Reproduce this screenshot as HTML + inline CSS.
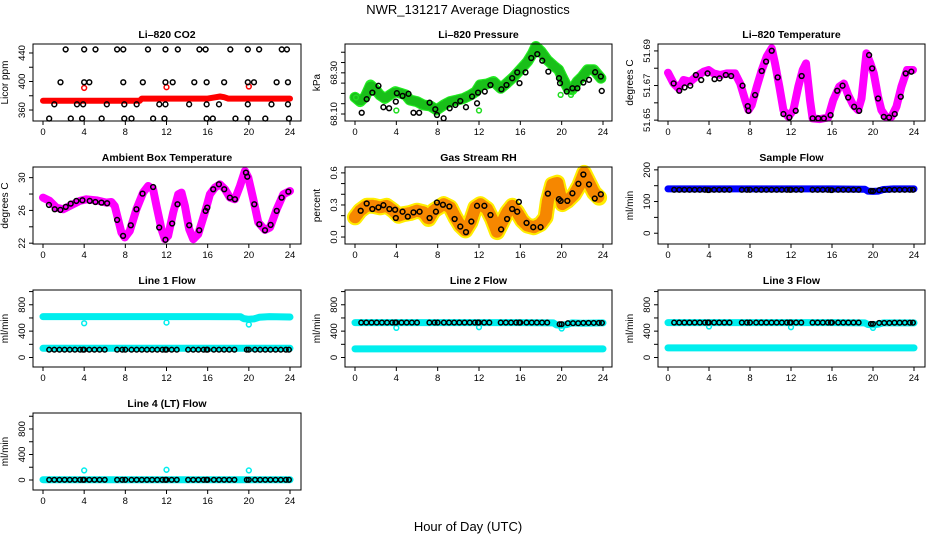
<!DOCTYPE html>
<html><head><meta charset="utf-8"><style>
html,body{margin:0;padding:0;background:#fff;}
svg{display:block;font-family:"Liberation Sans",sans-serif;}
</style></head><body>
<svg id="chart" width="936" height="540" viewBox="0 0 936 540" xmlns="http://www.w3.org/2000/svg">
<text x="468" y="14" text-anchor="middle" font-size="13">NWR_131217  Average Diagnostics</text>
<text x="468" y="531" text-anchor="middle" font-size="13">Hour of Day (UTC)</text>
</svg>
<script>
// ---------- data ----------
const xTicks = [0,4,8,12,16,20,24];
// CO2
const co2BandHours = [0,2,4,6,8,9.4,9.6,12,14,16,16.8,17.2,17.6,18,20,22,24];
const co2BandVals  = [373,373,373,373,373,373,376,376,376,376,378,379,378,376,376,376,376];
const co2RedHours = [4,12,20];
const co2RedVals  = [391,392,393];
const co2BlackHours = [2.2,4.0,5.1,7.2,7.8,10.2,11.9,13.1,15.2,15.8,18.2,19.9,21.0,23.2,23.7,
  1.7,4.0,4.5,7.8,9.7,11.9,12.6,14.7,15.9,17.6,19.9,20.5,22.7,23.8,
  1.1,3.3,3.9,6.2,7.9,9.1,11.3,11.9,14.2,15.9,17.1,19.9,22.2,23.8,
  0.6,2.7,3.8,5.7,7.9,8.6,10.7,11.8,15.9,16.5,18.7,19.9,21.6,23.9];
const co2BlackVals = [445,445,445,445,445,445,445,445,445,445,445,445,445,445,445,
  399,399,399,399,399,399,399,399,399,399,399,399,399,399,
  368,368,368,368,368,368,368,368,368,368,368,368,368,368,
  348,348,348,348,348,348,348,348,348,348,348,348,348,348];
// Pressure
const presHours = [0,0.5,1,1.5,2,2.4,2.9,3.4,3.9,4.4,4.9,5.3,6,6.6,7.3,7.9,8.6,9.2,9.9,10.5,11.2,11.7,12.1,12.8,13.4,14.1,14.7,15.4,16,16.7,17.2,17.5,18,18.6,19.3,19.7,20.1,20.6,21,21.5,22,22.5,23.1,23.8];
const presVals = [68.181,68.160,68.185,68.241,68.217,68.193,68.176,68.193,68.209,68.201,68.193,68.168,68.160,68.144,68.139,68.120,68.144,68.160,68.168,68.176,68.193,68.209,68.241,68.246,68.258,68.225,68.250,68.282,68.315,68.355,68.396,68.428,68.404,68.363,68.331,68.315,68.274,68.225,68.217,68.258,68.282,68.315,68.315,68.274];
const presBlackHours = [0.65,1.13,1.68,2.27,2.75,3.30,3.95,4.05,4.60,5.18,5.66,6.21,7.22,7.77,7.93,8.58,9.16,9.71,10.19,10.74,11.33,11.81,11.91,12.56,13.11,14.17,14.66,15.21,15.70,15.92,16.50,17.06,17.64,18.12,18.71,19.74,19.84,20.49,21.04,21.52,22.10,22.65,23.24,23.79,23.88];
const presBlackVals = [68.106,68.172,68.204,68.237,68.133,68.128,68.160,68.201,68.188,68.198,68.106,68.106,68.155,68.123,68.095,68.079,68.128,68.144,68.163,68.133,68.185,68.152,68.204,68.209,68.241,68.220,68.241,68.274,68.302,68.250,68.302,68.372,68.391,68.359,68.306,68.274,68.250,68.209,68.225,68.225,68.253,68.266,68.303,68.282,68.212];
const presGreenHours = [0.1,4.0,12.0,19.9,20.9];
const presGreenVals = [68.18,68.117,68.117,68.193,68.193];
// Li-820 temperature
const tempHours = [0,0.55,1.04,1.52,2.17,2.82,3.47,3.96,4.44,5.09,5.74,6.55,7.04,7.53,7.85,8.17,8.66,9.15,9.63,10.12,10.44,10.87,11.26,11.74,12.23,12.71,13.14,13.46,13.85,14.11,14.82,15.63,16.12,16.70,17.16,17.58,18.07,18.55,18.88,19.36,19.75,20.08,20.50,20.82,21.31,21.80,22.28,22.77,23.32,23.90];
const tempVals = [51.6774,51.6712,51.6683,51.6732,51.6722,51.6755,51.6780,51.6790,51.6770,51.6761,51.6770,51.6770,51.6712,51.6616,51.6558,51.6587,51.6693,51.6790,51.6867,51.6915,51.6828,51.6693,51.6558,51.6519,51.6558,51.6693,51.6790,51.6828,51.6616,51.6510,51.6506,51.6515,51.6616,51.6693,51.6712,51.6645,51.6587,51.6558,51.6625,51.6886,51.6828,51.6770,51.6635,51.6558,51.6515,51.6519,51.6577,51.6693,51.6790,51.6790];
const tempBlackHours = [0.55,1.10,1.62,2.17,2.72,3.24,3.86,4.54,5.03,5.64,6.16,7.27,7.78,7.85,8.50,9.15,9.57,10.12,10.70,11.26,11.84,12.46,13.04,14.11,14.66,15.21,15.86,16.51,17.03,17.58,18.16,18.65,19.62,19.92,20.50,21.05,21.57,22.12,22.71,23.19,23.74];
const tempBlackVals = [51.6712,51.6670,51.6689,51.6699,51.6761,51.6732,51.6770,51.6737,51.6741,51.6761,51.6755,51.6699,51.6581,51.6554,51.6645,51.6784,51.6838,51.6901,51.6747,51.6535,51.6515,51.6554,51.6755,51.6510,51.6510,51.6510,51.6529,51.6670,51.6699,51.6631,51.6577,51.6554,51.6876,51.6799,51.6625,51.6519,51.6515,51.6535,51.6635,51.6770,51.6780];
// Ambient box temperature
const ambHours = [0,0.65,1.30,1.95,2.59,3.57,4.22,5.19,6.16,6.65,6.97,7.30,7.62,7.95,8.43,9.08,9.73,10.22,10.70,11.03,11.51,11.84,12.16,12.65,13.14,13.46,13.79,14.21,14.60,15.08,15.73,16.22,16.70,17.19,17.68,18.16,18.65,19.14,19.62,19.95,20.43,20.92,21.57,22.06,22.71,23.35,24.00];
const ambVals = [27.56,27.16,26.34,26.14,26.55,27.16,27.36,27.24,26.95,27.03,26.55,24.92,23.30,22.69,23.50,26.14,28.17,28.98,28.58,26.55,23.71,22.49,22.89,25.74,27.97,28.17,26.55,23.71,22.49,23.10,25.74,27.97,28.78,29.19,28.58,27.56,27.36,28.98,30.81,30.00,27.36,24.52,23.62,23.91,26.14,27.97,28.37];
const ambBlackHours = [0.58,1.14,1.69,2.21,2.69,3.24,3.83,4.54,5.09,5.68,6.23,7.20,7.78,8.53,9.08,9.67,10.70,11.29,11.90,12.55,13.07,14.21,15.18,15.80,15.96,16.54,17.09,17.61,18.16,18.65,19.72,19.85,20.53,21.02,21.57,22.12,22.71,23.19,23.84];
const ambBlackVals = [26.67,26.14,26.06,26.43,26.83,27.16,27.24,27.16,27.03,26.95,26.87,24.84,22.89,24.19,26.14,28.05,28.86,23.91,22.41,24.40,26.75,24.19,23.58,25.94,26.34,28.58,29.19,28.58,27.56,27.36,30.61,30.12,26.75,24.31,23.58,24.23,25.94,27.56,28.29];
// Gas stream RH
const rhHours = [0,0.49,1.13,1.78,2.43,3.07,3.72,4.21,4.69,5.34,5.99,6.63,7.12,7.61,8.09,8.58,9.22,9.71,10.19,10.68,11.17,11.65,12.14,12.78,13.27,13.75,14.24,14.72,15.21,15.70,16.18,16.67,17.31,17.96,18.45,18.67,19.09,19.58,20.06,20.55,21.20,21.68,22.17,22.65,23.14,23.62];
const rhVals = [0.185,0.246,0.292,0.292,0.277,0.292,0.246,0.200,0.215,0.225,0.246,0.231,0.169,0.246,0.277,0.308,0.277,0.185,0.108,0.062,0.138,0.277,0.308,0.262,0.169,0.046,0.138,0.231,0.292,0.231,0.154,0.108,0.092,0.123,0.185,0.338,0.492,0.508,0.308,0.338,0.400,0.477,0.600,0.508,0.415,0.369];
const rhBlackHours = [0.55,1.13,1.68,2.27,2.75,3.33,3.88,3.95,4.60,5.11,5.66,6.25,7.22,7.83,7.93,8.51,9.13,9.64,10.19,10.74,11.26,11.81,12.52,13.11,14.14,14.72,15.21,15.86,15.70,16.60,17.25,17.96,18.67,19.74,19.90,20.55,21.04,21.62,22.10,22.65,23.20,23.79];
const rhBlackVals = [0.246,0.314,0.262,0.277,0.298,0.262,0.255,0.178,0.237,0.191,0.231,0.237,0.178,0.237,0.323,0.302,0.286,0.169,0.098,0.046,0.145,0.292,0.292,0.206,0.071,0.169,0.262,0.329,0.237,0.132,0.092,0.092,0.406,0.354,0.338,0.338,0.409,0.498,0.585,0.492,0.360,0.400];
// Flow panels
const flowHours = [0.6,1.1,1.6,2.1,2.6,3.1,3.6,3.9,4.0,4.5,5.0,5.5,6.0,7.2,7.7,8.0,8.6,9.1,9.6,10.1,10.6,11.1,11.6,11.9,12.0,12.5,13.0,14.1,14.6,15.1,15.6,15.9,16.0,16.6,17.1,17.6,18.1,18.6,19.8,20.0,20.6,21.1,21.6,22.1,22.6,23.1,23.6,23.9];
const bandHours = [0,4,8,12,16,19.2,19.5,20,20.5,21,22,24];
const sampleBand = [140,140,140,140,140,139,133,132,133,138,140,140];
const sampleVals = [137,137,137,137,137,137,137,136,136,137,137,137,137,137,137,137,137,137,137,137,137,137,137,137,137,137,137,137,137,137,137,136,136,137,137,137,137,137,133,133,136,137,137,137,137,137,137,137];
const line1UpperBand = [620,620,620,620,620,618,590,580,585,610,620,615];
const line1LowerBand = [140,140,140,140,140,140,140,140,140,140,140,140];
const line1Vals = [118,118,118,118,118,118,118,118,118,118,118,118,118,118,118,118,118,118,118,118,118,118,118,118,118,118,118,118,118,118,118,118,118,118,118,118,118,118,118,118,118,118,118,118,118,118,118,118];
const line1OutHours = [4,12,20];
const line1OutVals = [520,530,500];
const line2UpperBand = [530,530,530,530,530,525,495,490,500,525,520,525];
const line2LowerBand = [130,130,130,130,130,130,130,130,130,130,130,130];
const line2Vals = [530,530,530,530,530,530,530,530,530,530,530,530,530,530,530,530,530,530,530,530,530,530,530,530,530,530,530,530,530,530,530,530,530,530,530,530,530,530,505,505,520,520,520,525,525,525,525,525];
const line2OutHours = [4,12,20];
const line2OutVals = [450,460,440];
const line3UpperBand = [530,530,530,530,530,525,500,495,505,525,525,525];
const line3LowerBand = [145,145,145,145,145,145,145,145,145,145,145,145];
const line3Vals = [530,530,530,530,530,530,530,530,530,530,530,530,530,530,530,530,530,530,530,530,530,530,530,530,530,530,530,530,530,530,530,530,530,530,530,530,530,530,510,510,525,525,525,528,528,528,528,528];
const line3OutHours = [4,12,20];
const line3OutVals = [470,460,450];
const line4Band = [5,5,5,5,5,5,5,5,5,5,5,5];
const line4Vals = [3,3,3,3,3,3,3,3,3,3,3,3,3,3,3,3,3,3,3,3,3,3,3,3,3,3,3,3,3,3,3,3,3,3,3,3,3,3,3,3,3,3,3,3,3,3,3,3];
const line4OutHours = [4,12,20];
const line4OutVals = [150,160,150];

// ---------- layout ----------
const NS = "http://www.w3.org/2000/svg";
const svg = document.getElementById('chart');
const COLS = [{l:33,r:301,x0:43,x24:290},{l:345,r:612,x0:355,x24:603},{l:658,r:925,x0:668,x24:914}];
const ROWS = [{t:44,b:121},{t:167,b:244},{t:290,b:367},{t:413,b:490}];

function el(tag, attrs, parent){
  const e = document.createElementNS(NS, tag);
  for (const k in attrs) e.setAttribute(k, attrs[k]);
  (parent||svg).appendChild(e);
  return e;
}

function makePanel(name, title, ylab, col, row, ymin, ymax, ticks, labels, fmt){
  const C = COLS[col], R = ROWS[row];
  const g = el('g', {});
  
  
  const xs = h => C.x0 + (C.x24 - C.x0) * h / 24;
  const ys = v => R.b - (v - ymin) / (ymax - ymin) * (R.b - R.t);
  const t = el('text', {x:(C.l+C.r)/2, y:R.t-6, 'text-anchor':'middle', 'font-size':'10.5', 'font-weight':'bold'}, g);
  t.textContent = title;
  
  
  const yl = el('text', {transform:`translate(${C.l-25},${(R.t+R.b)/2}) rotate(-90)`, 'text-anchor':'middle', 'font-size':'10'}, g);
  yl.textContent = ylab;
  
  
  const plot = el('g', {}, g);
  
  
  const ax = el('g', {stroke:'#000','stroke-width':'1',fill:'none'}, g);
  
  
  el('rect', {x:C.l, y:R.t, width:C.r-C.l, height:R.b-R.t}, ax);
  xTicks.forEach(h => {
    el('line', {x1:xs(h), x2:xs(h), y1:R.b, y2:R.b+4}, ax);
    const tx = el('text', {x:xs(h), y:R.b+14, 'text-anchor':'middle', 'font-size':'9.5', fill:'#000', stroke:'none'}, g);
    tx.textContent = String(h);
    
    
  });
  ticks.forEach(v => { el('line', {x1:C.l-4, x2:C.l, y1:ys(v), y2:ys(v)}, ax); });
  labels.forEach(v => {
    const ty = el('text', {transform:`translate(${C.l-8},${ys(v)}) rotate(-90)`, 'text-anchor':'middle', 'font-size':'9.5'}, g);
    ty.textContent = fmt(v);
    
    
  });
  return {xs, ys, plot};
}

function band(P, hours, vals, color, width, name, extra){
  const d = hours.map((h,i)=>(i?'L':'M')+P.xs(h).toFixed(1)+' '+P.ys(vals[i]).toFixed(1)).join(' ');
  const p = el('path', Object.assign({d, fill:'none', stroke:color, 'stroke-width':width, 'stroke-linejoin':'round', 'stroke-linecap':'round'}, extra||{}), P.plot);
  
  
}
function circles(P, hours, vals, color, name, r){
  const g = el('g', {fill:'none', stroke:color, 'stroke-width':'1.5'}, P.plot);
  
  
  hours.forEach((h,i)=>{
    const c = el('circle', {cx:P.xs(h), cy:P.ys(vals[i]), r:r||2.4}, g);
    
    
  });
}

let P = makePanel('panel-co2','Li\u2013820 CO2','Licor ppm',0,0,344.6,452.6,[360,380,400,420,440],[360,400,440],v=>String(v));
band(P, co2BandHours, co2BandVals, '#ff0000', 6, 'co2-band');
circles(P, co2RedHours, co2RedVals, '#ff0000', 'co2-red-points');
circles(P, co2BlackHours, co2BlackVals, '#000', 'co2-hourly-points');

P = makePanel('panel-pressure','Li\u2013820 Pressure','kPa',1,0,68.066,68.44,[68.10,68.15,68.20,68.25,68.30,68.35,68.40],[68.10,68.30],v=>v.toFixed(2));
band(P, presHours, presVals, '#22ee22', 11, 'pressure-band');
band(P, presHours, presVals, '#0a660a', 9, 'pressure-band-texture', {'stroke-dasharray':'1 3','stroke-opacity':'0.35'});
circles(P, presGreenHours, presGreenVals, '#22dd22', 'pressure-green-points');
circles(P, presBlackHours, presBlackVals, '#000', 'pressure-hourly-points');

P = makePanel('panel-li820-temp','Li\u2013820 Temperature','degrees C',2,0,51.6495,51.694,[51.65,51.66,51.67,51.68,51.69],[51.65,51.67,51.69],v=>v.toFixed(2));
band(P, tempHours, tempVals, '#ff00ff', 8, 'temp-band');
circles(P, tempBlackHours, tempBlackVals, '#000', 'temp-hourly-points');

P = makePanel('panel-ambient-temp','Ambient Box Temperature','degrees C',0,1,21.9,31.3,[22,24,26,28,30],[22,26,30],v=>String(v));
band(P, ambHours, ambVals, '#ff00ff', 8, 'ambient-band');
circles(P, ambBlackHours, ambBlackVals, '#000', 'ambient-hourly-points');

P = makePanel('panel-rh','Gas Stream RH','percent',1,1,-0.065,0.655,[0,0.1,0.2,0.3,0.4,0.5,0.6],[0,0.3,0.6],v=>v.toFixed(1));
band(P, rhHours, rhVals, '#ffee00', 16, 'rh-band');
band(P, rhHours, rhVals, '#ee3300', 12, 'rh-band-texture', {'stroke-dasharray':'1.5 2','stroke-opacity':'0.55'});
circles(P, rhBlackHours, rhBlackVals, '#000', 'rh-hourly-points');

P = makePanel('panel-sample-flow','Sample Flow','ml/min',2,1,-34,209,[0,50,100,150,200],[0,100,200],v=>String(v));
band(P, bandHours, sampleBand, '#0000ff', 7, 'sample-flow-band');
circles(P, flowHours, sampleVals, '#000', 'sample-flow-points', 2.3);

P = makePanel('panel-line1-flow','Line 1 Flow','ml/min',0,2,-144,1024,[0,200,400,600,800,1000],[0,400,800],v=>String(v));
band(P, bandHours, line1UpperBand, '#00eeee', 7, 'line1-upper-band');
band(P, bandHours, line1LowerBand, '#00eeee', 7, 'line1-lower-band');
circles(P, line1OutHours, line1OutVals, '#00eeee', 'line1-outlier-points');
circles(P, flowHours, line1Vals, '#000', 'line1-points', 2.3);

P = makePanel('panel-line2-flow','Line 2 Flow','ml/min',1,2,-144,1024,[0,200,400,600,800,1000],[0,400,800],v=>String(v));
band(P, bandHours, line2UpperBand, '#00eeee', 7, 'line2-upper-band');
band(P, bandHours, line2LowerBand, '#00eeee', 7, 'line2-lower-band');
circles(P, line2OutHours, line2OutVals, '#00eeee', 'line2-outlier-points');
circles(P, flowHours, line2Vals, '#000', 'line2-points', 2.3);

P = makePanel('panel-line3-flow','Line 3 Flow','ml/min',2,2,-144,1024,[0,200,400,600,800,1000],[0,400,800],v=>String(v));
band(P, bandHours, line3UpperBand, '#00eeee', 7, 'line3-upper-band');
band(P, bandHours, line3LowerBand, '#00eeee', 7, 'line3-lower-band');
circles(P, line3OutHours, line3OutVals, '#00eeee', 'line3-outlier-points');
circles(P, flowHours, line3Vals, '#000', 'line3-points', 2.3);

P = makePanel('panel-line4-flow','Line 4 (LT) Flow','ml/min',0,3,-157,1051,[0,200,400,600,800,1000],[0,400,800],v=>String(v));
band(P, bandHours, line4Band, '#00eeee', 7, 'line4-band');
circles(P, line4OutHours, line4OutVals, '#00eeee', 'line4-outlier-points');
circles(P, flowHours, line4Vals, '#000', 'line4-points', 2.3);
</script>
</body></html>
